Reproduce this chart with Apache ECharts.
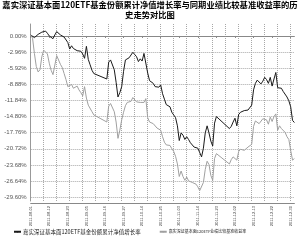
<!DOCTYPE html>
<html><head><meta charset="utf-8">
<script src="https://cdn.jsdelivr.net/npm/echarts@6/dist/echarts.min.js"></script>
<style>html,body{margin:0;padding:0;background:#fff}#c{width:300px;height:242px}</style>
</head><body><div id="c"></div>
<script>
var titleText = '嘉实深证基本面120ETF基金份额累计净值增长率与同期业绩比较基准收益率的历\n史走势对比图';
var seriesNames = ['嘉实深证基本面120ETF基金份额累计净值增长率', '嘉实深证基本面120ETF业绩比较基准收益率'];
var xLabels = ['2011-08-01','2011-08-12','2011-08-23','2011-09-05','2011-09-16','2011-09-27','2011-10-14','2011-10-25','2011-11-03','2011-11-14','2011-11-23','2011-12-02','2011-12-13','2011-12-22','2011-12-30'];
var yTicks = [-29.60, -26.64, -23.68, -20.72, -17.76, -14.80, -11.84, -8.88, -5.92, -2.96, 0];
var fundValues = [
 0.2, 0, -0.3, -0.1, 0.3, 0.5, 0.7, 0.8, 0.9, 0.5,
 0, -0.3, -0.5, 0.2, 0.8, 0.5, 0.2, 0.1, -0.2, -0.5,
 -1.2, -2.4, -1.8, -2.3, -2.2, -2.7, -2.4, -2.8, -3.3, -4.1,
 -1.9, -4.3, -5.3, -6.3, -6.9, null, null, null, null, null,
 null, -7.9, -4.8, -4.4, -4.6, -6.2, -8.5, -11.2, -10.4, -9.3,
 -6.5, -4.4, -4.2, -4.0, -3.8, -3.0, -3.4, -3.8, -4.7, -4.2,
 -4.6, -3.2, -3.1, -6.8, -8.2, -8.4, -8.7, -9.3, -9.1, -9.4,
 -9.0, -10.6, -11.6, -12.6, -12.7, -13.0, -14.0, -14.3, -15.0, -16.5,
 -19.2, -17.8, -18.2, -19.0, -18.5, -19.0, -19.6, -19.6, -20.4, -20.3,
 -20.6, -21.4, -22.2, -20.6, -17.8, -16.5, -17.8, -19.3, -20.2, -16.0,
 -14.8, null, null, null, null, null, null, -17.0, -16.6, -15.8,
 -15.1, -16.5, -14.4, -14.0, -13.9, -13.7, -13.5, -13.6, -13.4, -12.7,
 -9.9, -8.7, -8.1, -8.0, -8.8, -8.3, -7.6, -8.0, -8.7, -7.6,
 -9.2, -7.9, -6.7, -9.5, -9.4, -9.6, -10.2, -10.5, -11.2, -11.9,
 -13.0, -15.5, -15.9
];
var benchValues = [
 0.2, -0.4, -3.2, -5.6, -6.6, -6.2, -3.8, -2.6, -2.5, -3.3,
 -5.0, -6.3, -7.1, -7.0, -3.6, -3.9, -5.2, -5.8, -6.9, -8.0,
 -9.3, -9.0, -8.9, -9.6, -9.7, -9.2, -9.9, -10.4, -11.0, -9.3,
 -11.4, -12.7, -13.0, -13.9, -14.5, null, null, null, null, null,
 null, -15.8, -12.9, -12.4, -12.6, -13.9, -15.8, -18.8, -17.3, -15.4,
 -14.0, -12.8, -12.2, -12.2, -12.0, -11.3, -11.5, -12.1, -11.8, -12.2,
 -12.0, -12.2, -11.5, -15.0, -15.8, -15.9, -16.1, -16.2, -16.9, -17.0,
 -17.3, -18.5, -19.5, -20.0, -20.0, -20.1, -20.7, -21.2, -22.1, -23.5,
 -25.8, -24.8, -25.8, -26.5, -25.9, -26.6, -26.6, -26.9, -26.8, -27.2,
 -27.7, -28.4, -28.7, -26.9, -24.5, -23.0, -23.6, -25.6, -26.5, -22.5,
 -21.6, null, null, null, null, null, null, -23.5, -22.7, -22.2,
 -22.5, -22.8, -21.2, -20.8, -20.8, -21.0, -20.7, -20.4, -20.1, -19.9,
 -16.6, -15.6, -15.6, -16.1, -15.9, -15.2, -14.9, -15.4, -16.2, -14.9,
 -15.7, -14.8, -14.3, -17.3, -16.5, -17.0, -17.3, -17.7, -18.5, -19.0,
 -21.0, -22.8, -22.5
];
var categories = fundValues.map(function (v, i) { return (i % 10 === 0 && xLabels[i / 10]) ? xLabels[i / 10] : ('d' + i); });

var chart = echarts.init(document.getElementById('c'), null, {renderer: 'canvas'});
var grid = '#a8a8a8';
chart.setOption({
  animation: false,
  title: {
    text: titleText, left: 'center', top: 0, padding: 0,
    textStyle: {fontSize: 8.3, lineHeight: 10, fontWeight: 'bold', color: '#000', fontFamily: 'Noto Sans CJK SC', align: 'center'}
  },
  legend: {
    left: 13, top: 229, itemWidth: 7, itemHeight: 2, itemGap: 18, padding: 0,
    data: [
      {name: seriesNames[0], textStyle: {fontSize: 5.5}},
      {name: seriesNames[1], textStyle: {fontSize: 4}}
    ],
    textStyle: {color: '#222', fontFamily: 'Noto Sans CJK SC', padding: [0, 0, 0, -3]}
  },
  grid: {left: 30.7, right: 5.6, top: 24, bottom: 41},
  xAxis: [{
    type: 'category', data: categories, boundaryGap: false,
    axisLine: {lineStyle: {color: '#888', width: 1}},
    axisTick: {show: true, interval: 9, length: 2, lineStyle: {color: '#888'}},
    axisLabel: {interval: 9, rotate: 90, fontSize: 4, color: '#444', margin: 5, fontFamily: 'Liberation Sans'},
    splitLine: {show: true, interval: 6, lineStyle: {color: grid, type: 'dotted', width: 1}}
  }, {
    type: 'category', data: categories, boundaryGap: false, position: 'bottom', offset: 2,
    axisLine: {lineStyle: {color: '#888', width: 1}},
    axisTick: {show: false}, axisLabel: {show: false}, splitLine: {show: false}
  }],
  yAxis: {
    type: 'value', min: -30.3, max: 2.2,
    axisLine: {show: true, lineStyle: {color: '#999'}},
    axisTick: {show: false, customValues: yTicks},
    axisLabel: {customValues: yTicks, showMinLabel: true, showMaxLabel: true, hideOverlap: false,
      fontSize: 6, color: '#555', margin: 4, fontFamily: 'Liberation Sans',
      formatter: function (v) { return (Math.abs(v) < 1e-9 ? 0 : v).toFixed(2) + '%'; }},
    splitLine: {show: true, lineStyle: {color: grid, type: 'dotted', width: 1}}
  },
  series: [
    {name: seriesNames[0], type: 'line', data: fundValues, symbol: 'none', connectNulls: true,
      lineStyle: {color: '#1a1a1a', width: 1}, itemStyle: {color: '#1a1a1a'}},
    {name: seriesNames[1], type: 'line', data: benchValues, symbol: 'none', connectNulls: true,
      lineStyle: {color: '#a0a0a0', width: 1}, itemStyle: {color: '#a0a0a0'}}
  ]
});
</script></body></html>
